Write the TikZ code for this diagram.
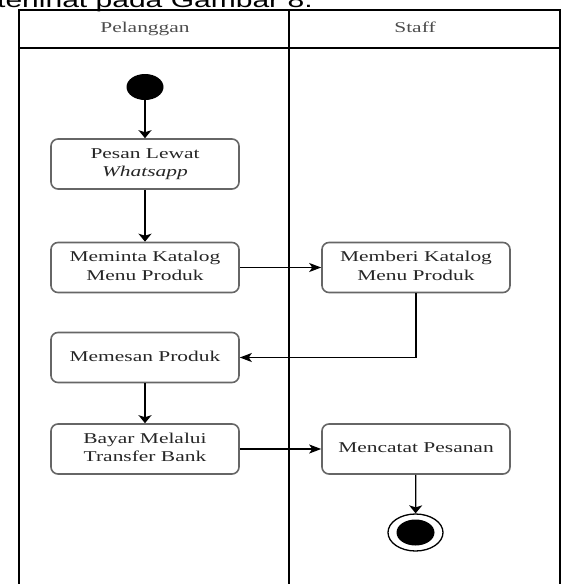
\documentclass[tikz,border=0pt]{standalone}
\usepackage{graphicx}
\usepackage{fontspec}
\setmainfont{Liberation Serif}
\newfontfamily\pagefont{Liberation Sans}
\usetikzlibrary{arrows.meta,shapes.geometric}

\newcommand{\widetext}[1]{\scalebox{1.43}[1]{\begin{tabular}{@{}c@{}}#1\end{tabular}}}

\begin{document}
\begin{tikzpicture} [x=1pt, y=-1pt,
		action/.style={draw=black!60, line width=1.6pt, rounded corners=7pt, minimum width=188pt, minimum height=50pt, inner sep=0pt, text=black!85, font=\fontsize{15}{18.5}\selectfont},
		lanetitle/.style={inner sep=0pt, text=black!70, font=\fontsize{15}{18.5}\selectfont},
		vflow/.style={line width=1.3pt, -{Stealth[length=8pt, width=13pt, inset=2pt]}},
		hflow/.style={line width=1.3pt, -{Stealth[length=12pt, width=9pt, inset=3pt]}}]
		\def\laneLeft{19};
		\def\laneMid{289};
		\def\laneRight{560};
		\def\laneTop{10};
		\def\headBottom{48};
		\def\laneBottom{600};
		\def\leftX{145};
		\def\rightX{416};
		
		\useasboundingbox (0,0) rectangle (562,584);
		\clip (0,0) rectangle (562,584);
		
		%text of the page above the figure
		\node [anchor=base west, inner sep=0pt, font=\pagefont\fontsize{21}{25}\selectfont] (pagetext) at (-3,7) {\scalebox{1.43}[1]{terlihat pada Gambar 8.}};
		
		%swimlanes
		\draw [line width=1.5pt] (\laneLeft,\laneBottom) -- (\laneLeft,\laneTop) -- (\laneRight,\laneTop) -- (\laneRight,\laneBottom);
		\draw [line width=1.3pt] (\laneLeft,\headBottom) -- (\laneRight,\headBottom);
		\draw [line width=1.5pt] (\laneMid,\laneTop) -- (\laneMid,\laneBottom);
		\node [lanetitle] (pelanggan) at (\leftX,29) {\widetext{Pelanggan}};
		\node [lanetitle] (staff) at (415,29) {\widetext{Staff}};
		
		%start and end
		\node [ellipse, fill=black, minimum width=37pt, minimum height=26pt, inner sep=0pt] (start) at (\leftX,87) {};
		\node [ellipse, draw=black, line width=1.3pt, minimum width=55pt, minimum height=37pt, inner sep=0pt] (end) at (415.5,532.5) {};
		\node [ellipse, fill=black, minimum width=38pt, minimum height=26pt, inner sep=0pt] (endDot) at (end.center) {};
		
		%actions
		\node [action] (pesan) at (\leftX,164) {\widetext{Pesan Lewat\\ \textit{Whatsapp}}};
		\node [action] (meminta) at (\leftX,267.5) {\widetext{Meminta Katalog\\ Menu Produk}};
		\node [action] (memberi) at (\rightX,267.5) {\widetext{Memberi Katalog\\ Menu Produk}};
		\node [action] (memesan) at (\leftX,357.5) {\widetext{Memesan Produk}};
		\node [action] (bayar) at (\leftX,449) {\widetext{Bayar Melalui\\ Transfer Bank}};
		\node [action] (mencatat) at (\rightX,449) {\widetext{Mencatat Pesanan}};
		
		%flows
		\draw [vflow] (start) -- (pesan);
		\draw [vflow] (pesan) -- (meminta);
		\draw [hflow] (meminta) -- (memberi);
		\draw [hflow] (memberi.south) |- (memesan.east);
		\draw [vflow] (memesan) -- (bayar);
		\draw [hflow] (bayar) -- (mencatat);
		\draw [vflow] (mencatat) -- (end);
	
	\end{tikzpicture}
\end{document}
